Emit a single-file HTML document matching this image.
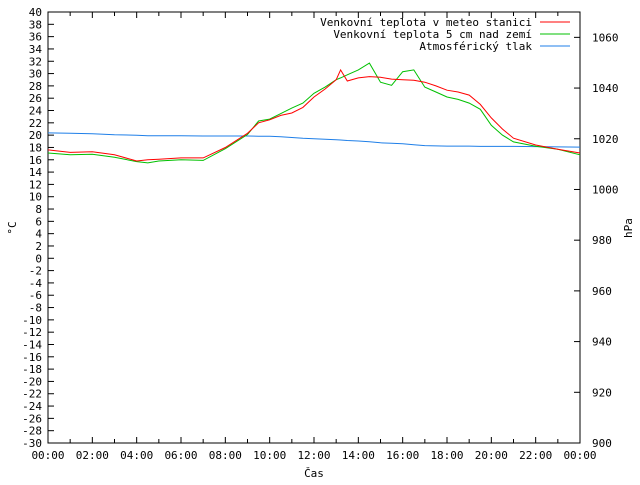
<!DOCTYPE html>
<html><head><meta charset="utf-8"><style>
body{margin:0;background:#fff}
svg text{font-family:"DejaVu Sans Mono","Liberation Mono",monospace;font-size:11px;fill:#000}
</style></head><body>
<svg width="640" height="480" xmlns="http://www.w3.org/2000/svg">
<g id="ax"></g><g id="series"></g><g id="legend"></g>
</svg>
<script>
const hours=[0,1,2,3,4,4.5,5,6,7,8,9,9.5,10,10.5,11,11.5,12,12.5,13,13.2,13.5,14,14.5,15,15.5,16,16.5,17,17.5,18,18.5,19,19.5,20,20.5,21,22,23,24];
const redT=[17.6,17.2,17.3,16.8,15.8,16.0,16.1,16.3,16.3,18.0,20.3,22.0,22.5,23.2,23.6,24.5,26.2,27.5,29.0,30.6,28.8,29.3,29.5,29.4,29.1,29.0,28.9,28.6,28.0,27.3,27.0,26.5,25.0,22.8,21.0,19.5,18.4,17.7,17.1];
const greenT=[17.1,16.8,16.9,16.4,15.7,15.5,15.8,16.0,15.9,17.8,20.1,22.3,22.6,23.5,24.4,25.2,26.8,27.8,29.0,29.3,29.8,30.6,31.7,28.6,28.1,30.3,30.6,27.8,27.0,26.2,25.8,25.2,24.2,21.6,20.0,18.9,18.2,17.7,16.8];
const pres=[1022.3,1022.2,1022,1021.6,1021.4,1021.2,1021.2,1021.2,1021.1,1021.1,1021.1,1021,1021,1020.8,1020.5,1020.2,1020.0,1019.8,1019.6,1019.5,1019.3,1019.1,1018.8,1018.4,1018.2,1018.0,1017.6,1017.3,1017.2,1017.1,1017.1,1017.1,1017,1017,1017,1017,1016.9,1016.8,1016.7];
const yTicks=[];for(let v=40;v>=-30;v-=2)yTicks.push(v);
const y2Ticks=[900,920,940,960,980,1000,1020,1040,1060];
const xLabels=["00:00","02:00","04:00","06:00","08:00","10:00","12:00","14:00","16:00","18:00","20:00","22:00","00:00"];
const L=48,R=580,T=12,B=443;
const X=h=>L+(R-L)*h/24, Y=v=>B-(B-T)*(v+30)/70, Y2=p=>B-(B-T)*(p-900)/170;
const NS="http://www.w3.org/2000/svg";
function mk(tag,at,par,txt){const e=document.createElementNS(NS,tag);for(const k in at)e.setAttribute(k,at[k]);if(txt!==undefined)e.textContent=txt;document.getElementById(par).appendChild(e);return e;}
let e=mk('rect',{x:L,y:T,width:R-L,height:B-T,fill:'none',stroke:'#000','stroke-width':1},'ax');

yTicks.forEach(v=>{const y=Y(v);
 e=mk('line',{x1:L,x2:L+6,y1:y,y2:y,stroke:'#000'},'ax');
 e=mk('text',{x:L-6,y:y+4,'text-anchor':'end'},'ax',v);});
y2Ticks.forEach(p=>{const y=Y2(p);
 e=mk('line',{x1:R-6,x2:R,y1:y,y2:y,stroke:'#000'},'ax');
 e=mk('text',{x:R+12,y:y+4},'ax',p);});
for(let h=0;h<=24;h++){const x=X(h),len=h%2?4:6;
 e=mk('line',{x1:x,x2:x,y1:B,y2:B-len,stroke:'#000'},'ax');
 e=mk('line',{x1:x,x2:x,y1:T,y2:T+len,stroke:'#000'},'ax');}
xLabels.forEach((s,i)=>{e=mk('text',{x:X(i*2),y:B+16,'text-anchor':'middle'},'ax',s);});
e=mk('text',{x:314,y:477,'text-anchor':'middle'},'ax','Čas');
e=mk('text',{x:16,y:228,'text-anchor':'middle',transform:'rotate(-90 16 228)'},'ax','°C');
e=mk('text',{x:632,y:228,'text-anchor':'middle',transform:'rotate(-90 632 228)'},'ax','hPa');
function line(vals,fy,col,name){const d=vals.map((v,i)=>(i?'L':'M')+X(hours[i]).toFixed(1)+','+fy(v).toFixed(1)).join('');
 const p=mk('path',{d:d,fill:'none',stroke:col,'stroke-width':1},'series');}
line(pres,Y2,'#1f7fe8','pressure-line');
line(greenT,Y,'#00c000','ground-temp-line');
line(redT,Y,'#ff0000','station-temp-line');
const leg=[["Venkovní teplota v meteo stanici",'#ff0000'],["Venkovní teplota 5 cm nad zemí",'#00c000'],["Atmosférický tlak",'#1f7fe8']];
leg.forEach((l,i)=>{const y=22+i*12;
 e=mk('text',{x:532,y:y+4,'text-anchor':'end'},'legend',l[0]);
 e=mk('line',{x1:540,x2:570,y1:y,y2:y,stroke:l[1]},'legend');});
</script>
</body></html>
